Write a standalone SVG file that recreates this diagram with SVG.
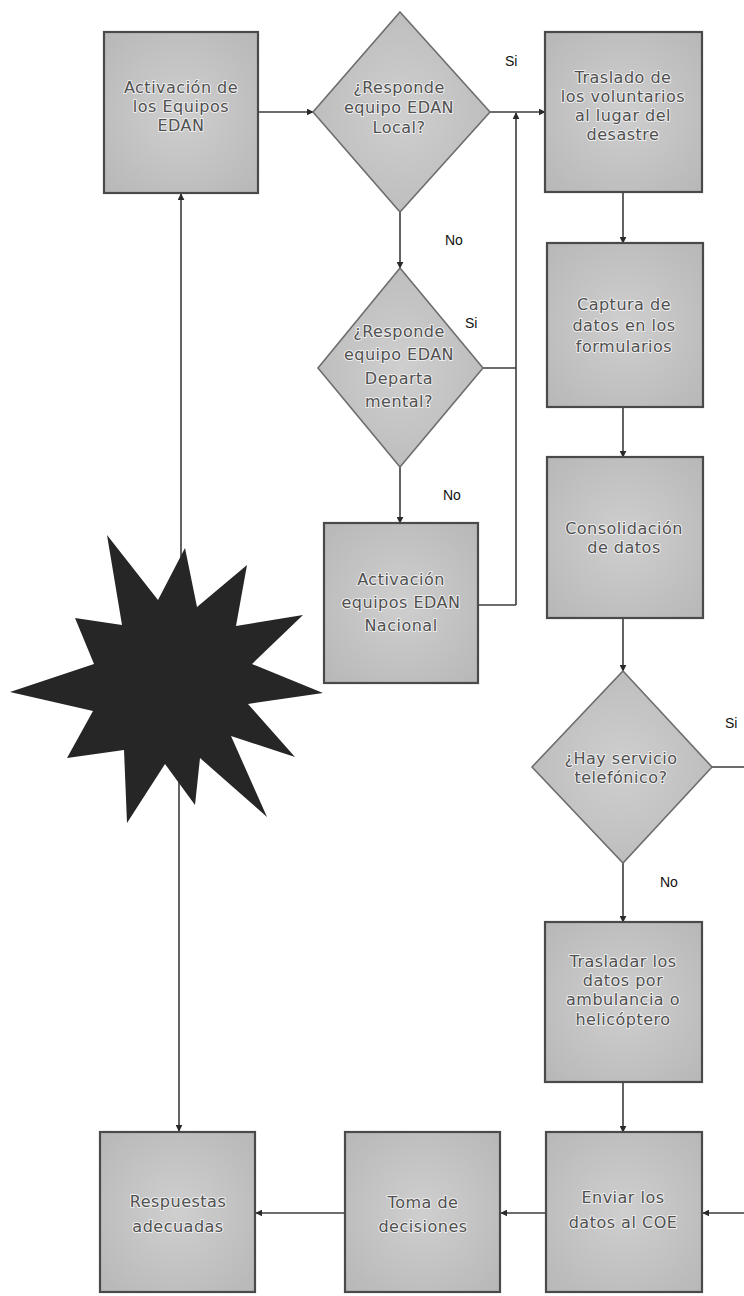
<svg xmlns="http://www.w3.org/2000/svg" width="744" height="1296" viewBox="0 0 744 1296">
<style>
.box{fill:url(#g);stroke:#4a4a4a;stroke-width:2.2}
.dia{fill:url(#g);stroke:#6e6e6e;stroke-width:1.6}
.t{font-family:"DejaVu Sans",Verdana,sans-serif;font-size:16px;letter-spacing:0.5px;fill:#505050;text-anchor:middle;stroke:#eeeeee;stroke-width:2;paint-order:stroke;stroke-linejoin:round}
.lbl{font-family:"Liberation Sans",Arial,sans-serif;font-size:14px;fill:#111}
.c{fill:none;stroke:#3c3c3c;stroke-width:1.6}
</style>
<defs>
<radialGradient id="g" cx="0.5" cy="0.5" r="0.7">
<stop offset="0" stop-color="#cfcfcf"/>
<stop offset="1" stop-color="#b7b7b7"/>
</radialGradient>
<marker id="a" viewBox="0 0 10 10" refX="9" refY="5" markerWidth="7" markerHeight="7" orient="auto" markerUnits="userSpaceOnUse">
<path d="M0,0 L10,5 L0,10 z" fill="#2a2a2a"/>
</marker>
</defs>
<rect width="744" height="1296" fill="#ffffff"/>

<g id="connectors">
<path class="c" d="M258,112 H313" marker-end="url(#a)"/>
<path class="c" d="M490,112 H545" marker-end="url(#a)"/>
<path class="c" d="M516,605 V113" marker-end="url(#a)"/>
<path class="c" d="M483,368 H516"/>
<path class="c" d="M478,605 H516"/>
<path class="c" d="M400,212 V268" marker-end="url(#a)"/>
<path class="c" d="M400,467 V523" marker-end="url(#a)"/>
<path class="c" d="M623,192 V243" marker-end="url(#a)"/>
<path class="c" d="M623,407 V457" marker-end="url(#a)"/>
<path class="c" d="M623,618 V671" marker-end="url(#a)"/>
<path class="c" d="M712,767 H752 V1213 H703" marker-end="url(#a)"/>
<path class="c" d="M623,863 V922" marker-end="url(#a)"/>
<path class="c" d="M623,1082 V1132" marker-end="url(#a)"/>
<path class="c" d="M546,1213 H501" marker-end="url(#a)"/>
<path class="c" d="M345,1213 H256" marker-end="url(#a)"/>
<path class="c" d="M181,680 V194" marker-end="url(#a)"/>
<path class="c" d="M179,680 V1131" marker-end="url(#a)"/>
</g>

<g id="labels">
<text class="lbl" x="505" y="66">Si</text>
<text class="lbl" x="445" y="245">No</text>
<text class="lbl" x="465" y="328">Si</text>
<text class="lbl" x="443" y="500">No</text>
<text class="lbl" x="725" y="728">Si</text>
<text class="lbl" x="660" y="887">No</text>
</g>

<g id="star">
<polygon fill="#262626" points="107,535 158,600 185,548 197,607 247,565 236,626 303,615 252,664 323,693 248,704 295,757 231,736 267,817 200,758 195,805 165,764 127,823 124,750 67,758 93,711 10,692 94,664 75,618 122,625"/>
</g>

<g id="n1">
<rect class="box" x="104" y="32" width="154" height="161"/>
<text class="t"><tspan x="181" y="93">Activación de</tspan><tspan x="181" y="112">los Equipos</tspan><tspan x="181" y="131">EDAN</tspan></text>
</g>

<g id="d1">
<polygon class="dia" points="400,12 490,112 400,212 313,112"/>
<text class="t"><tspan x="399" y="93">¿Responde</tspan><tspan x="399" y="113">equipo EDAN</tspan><tspan x="399" y="133">Local?</tspan></text>
</g>

<g id="n2">
<rect class="box" x="545" y="32" width="157" height="160"/>
<text class="t"><tspan x="623" y="83">Traslado de</tspan><tspan x="623" y="102">los voluntarios</tspan><tspan x="623" y="121">al lugar del</tspan><tspan x="623" y="140">desastre</tspan></text>
</g>

<g id="d2">
<polygon class="dia" points="400,268 483,368 400,467 318,368"/>
<text class="t"><tspan x="399" y="337">¿Responde</tspan><tspan x="399" y="360">equipo EDAN</tspan><tspan x="399" y="384">Departa</tspan><tspan x="399" y="407">mental?</tspan></text>
</g>

<g id="n3">
<rect class="box" x="324" y="523" width="154" height="160"/>
<text class="t"><tspan x="401" y="585">Activación</tspan><tspan x="401" y="608">equipos EDAN</tspan><tspan x="401" y="631">Nacional</tspan></text>
</g>

<g id="n4">
<rect class="box" x="547" y="243" width="156" height="164"/>
<text class="t"><tspan x="624" y="310">Captura de</tspan><tspan x="624" y="331">datos en los</tspan><tspan x="624" y="352">formularios</tspan></text>
</g>

<g id="n5">
<rect class="box" x="547" y="457" width="156" height="161"/>
<text class="t"><tspan x="624" y="534">Consolidación</tspan><tspan x="624" y="553">de datos</tspan></text>
</g>

<g id="d3">
<polygon class="dia" points="623,671 712,767 623,863 532,767"/>
<text class="t"><tspan x="621" y="764">¿Hay servicio</tspan><tspan x="621" y="783">telefónico?</tspan></text>
</g>

<g id="n6">
<rect class="box" x="545" y="922" width="157" height="160"/>
<text class="t"><tspan x="623" y="967">Trasladar los</tspan><tspan x="623" y="986">datos por</tspan><tspan x="623" y="1005">ambulancia o</tspan><tspan x="623" y="1025">helicóptero</tspan></text>
</g>

<g id="n7">
<rect class="box" x="546" y="1132" width="156" height="160"/>
<text class="t"><tspan x="623" y="1203">Enviar los</tspan><tspan x="623" y="1228">datos al COE</tspan></text>
</g>

<g id="n8">
<rect class="box" x="345" y="1132" width="155" height="160"/>
<text class="t"><tspan x="423" y="1208">Toma de</tspan><tspan x="423" y="1232">decisiones</tspan></text>
</g>

<g id="n9">
<rect class="box" x="100" y="1132" width="155" height="160"/>
<text class="t"><tspan x="178" y="1207">Respuestas</tspan><tspan x="178" y="1232">adecuadas</tspan></text>
</g>
</svg>
